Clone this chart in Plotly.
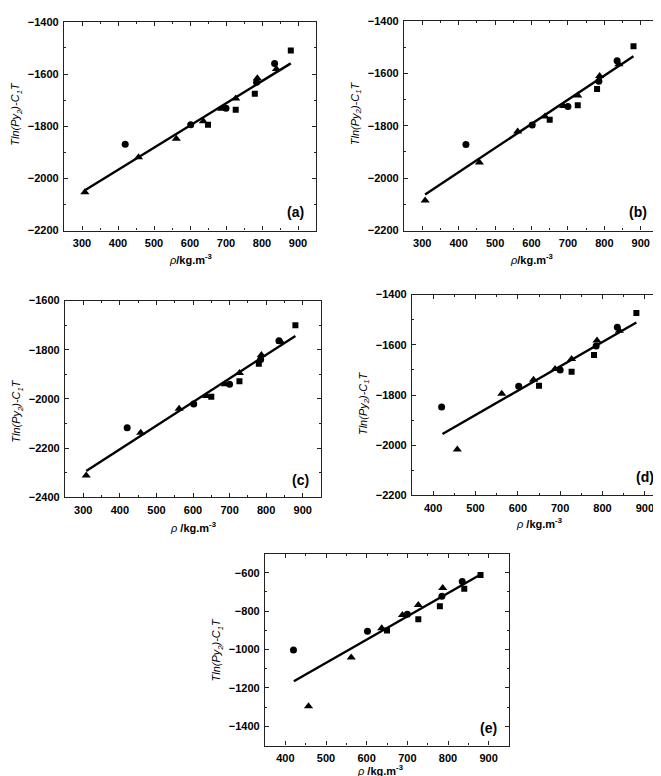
import plotly.graph_objects as go

# densities (kg/m3) for the three marker groups
circ_x = [420, 602, 700, 785, 835]
tri_x = [308, 457, 562, 637, 688, 727, 787, 840]
sq_x = [650, 727, 780, 880]

# (a)
a_circ = [-1869, -1794, -1731, -1631, -1560]
a_tri = [-2053, -1919, -1848, -1781, -1733, -1694, -1616, -1581]
a_sq = [-1794, -1737, -1675, -1510]
a_fit_x = [307, 880]
a_fit_y = [-2046, -1559]

# (b)
b_circ = [-1872, -1797, -1727, -1630, -1552]
b_tri = [-2085, -1940, -1822, -1765, -1725, -1685, -1610, -1565]
b_sq = [-1777, -1722, -1660, -1497]
b_fit_x = [308, 880]
b_fit_y = [-2062, -1535]

# (c)
c_circ = [-2117, -2021, -1940, -1840, -1764]
c_tri = [-2311, -2137, -2040, -1988, -1940, -1895, -1821, -1768]
c_sq = [-1991, -1928, -1857, -1701]
c_fit_x = [308, 880]
c_fit_y = [-2293, -1744]

# (d) - no point at 308
d_tri_x = [457, 562, 637, 688, 727, 787, 840]
d_circ = [-1848, -1765, -1700, -1605, -1530]
d_tri = [-2017, -1795, -1739, -1696, -1657, -1583, -1544]
d_sq = [-1763, -1707, -1641, -1473]
d_fit_x = [422, 880]
d_fit_y = [-1955, -1511]

# (e)
e_tri_x = [457, 562, 637, 688, 727, 787]
e_sq_x = [650, 727, 780, 840, 880]
e_circ = [-1003, -905, -816, -723, -646]
e_tri = [-1296, -1041, -889, -820, -768, -680]
e_sq = [-901, -842, -775, -683, -612]
e_fit_x = [421, 878]
e_fit_y = [-1165, -612]

XT_A = "<i>ρ</i><b>/kg.m<sup>-3</sup></b>"
XT_C = "<i>ρ</i><b> /kg.m<sup>-3</sup></b>"
YT = "<i>Tln(Py<sub>2</sub>)-C<sub>1</sub>T</i>"

panels = [
    # label, x px, y px, xrange, yrange, series, fit, x title, ytitle pos, xtitle pos
    ("(a)", (56, 308), (8, 220), [250, 950], [-2200, -1400],
     [(circ_x, a_circ), (tri_x, a_tri), (sq_x, a_sq)], (a_fit_x, a_fit_y), XT_A, 0.56, (0.5, -28)),
    ("(b)", (396, 651), (7, 220), [250, 950], [-2200, -1400],
     [(circ_x, b_circ), (tri_x, b_tri), (sq_x, b_sq)], (b_fit_x, b_fit_y), XT_A, 0.56, (0.5, -28)),
    ("(c)", (57, 313), (291, 491), [250, 950], [-2400, -1600],
     [(circ_x, c_circ), (tri_x, c_tri), (sq_x, c_sq)], (c_fit_x, c_fit_y), XT_C, 0.44, (0.5, -30)),
    ("(d)", (404, 658), (285, 489), [350, 950], [-2200, -1400],
     [(circ_x, d_circ), (d_tri_x, d_tri), (sq_x, d_sq)], (d_fit_x, d_fit_y), XT_C, 0.46, (0.5, -28)),
    ("(e)", (257, 501), (548, 743), [350, 950], [-1500, -500],
     [(circ_x, e_circ), (e_tri_x, e_tri), (e_sq_x, e_sq)], (e_fit_x, e_fit_y), XT_C, 0.5, (0.47, -24)),
]

W, H = 661, 776
symbols = ["circle", "triangle-up", "square"]
sizes = [7, 8, 6]
FONT = "Liberation Sans"

fig = go.Figure()
layout = {}
for i, (lab, xd, yd, xr, yr, series, fit, xt, ytpos, xtpos) in enumerate(panels):
    n = "" if i == 0 else str(i + 1)
    xa, ya = "x" + n, "y" + n
    for (xs, ys), sym, sz in zip(series, symbols, sizes):
        fig.add_trace(go.Scatter(x=xs, y=ys, mode="markers", xaxis=xa, yaxis=ya,
                                 marker=dict(symbol=sym, size=sz, color="black"),
                                 showlegend=False))
    fig.add_trace(go.Scatter(x=fit[0], y=fit[1], mode="lines", xaxis=xa, yaxis=ya,
                             line=dict(color="black", width=2.4), showlegend=False))
    common = dict(showline=True, linecolor="#222", linewidth=1.3, mirror="ticks",
                  ticks="inside", ticklen=4, tickwidth=1, tickcolor="#222",
                  showgrid=False, zeroline=False, ticklabelstandoff=2,
                  tickprefix="<b>", ticksuffix="</b>",
                  tickfont=dict(family=FONT, size=11, color="black"))
    layout["xaxis" + n] = dict(common, domain=[xd[0] / W, xd[1] / W], range=xr,
                               anchor=ya, dtick=100, tick0=0,
                               minor=dict(dtick=50, ticks="inside", ticklen=2, tickcolor="#222"))
    layout["yaxis" + n] = dict(common, domain=[1 - yd[1] / H, 1 - yd[0] / H], range=yr,
                               anchor=xa, dtick=200, tick0=0,
                               minor=dict(dtick=100, ticks="inside", ticklen=2, tickcolor="#222"))
    # panel letter
    fig.add_annotation(text="<b>" + lab + "</b>", xref=xa + " domain", yref=ya + " domain",
                       x=0.96, y=0.04, xanchor="right", yanchor="bottom", showarrow=False,
                       font=dict(family=FONT, size=14, color="black"))
    # x title
    fig.add_annotation(text=xt, xref=xa + " domain", yref=ya + " domain",
                       x=xtpos[0], y=0, yshift=xtpos[1], xanchor="center", yanchor="middle",
                       showarrow=False, font=dict(family=FONT, size=11, color="black"))
    # y title
    fig.add_annotation(text=YT, xref=xa + " domain", yref=ya + " domain", textangle=-90,
                       x=0, y=ytpos, xshift=-48, xanchor="center", yanchor="middle",
                       showarrow=False, font=dict(family=FONT, size=11, color="black"))

fig.update_layout(width=W, height=H, margin=dict(l=0, r=0, t=0, b=0),
                  paper_bgcolor="white", plot_bgcolor="white", **layout)
fig.write_html("out.html")
